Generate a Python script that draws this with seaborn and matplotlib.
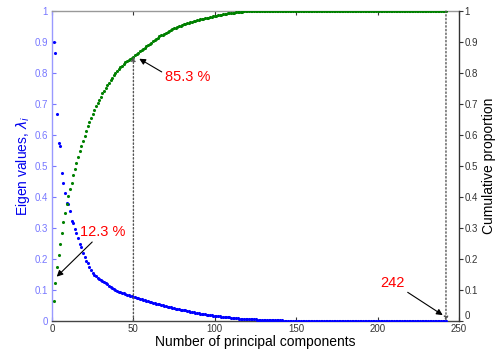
import matplotlib
matplotlib.use("Agg")
import matplotlib.pyplot as plt
import seaborn as sns
import numpy as np
import pandas as pd

# ---- data ----
eigen_values = [
    0.899, 0.864, 0.669, 0.575, 0.565, 0.478, 0.446, 0.414, 0.382, 0.377,
    0.354, 0.322, 0.317, 0.296, 0.283, 0.268, 0.250, 0.238, 0.218, 0.205,
    0.195, 0.186, 0.175, 0.165, 0.155, 0.148, 0.144, 0.140, 0.136, 0.132,
    0.128, 0.125, 0.122, 0.118, 0.114, 0.110, 0.106, 0.103, 0.100, 0.097,
    0.095, 0.093, 0.091, 0.089, 0.087, 0.085, 0.083, 0.081, 0.080, 0.078,
    0.076, 0.075, 0.073, 0.071, 0.070, 0.068, 0.067, 0.065, 0.064, 0.062,
    0.061, 0.059, 0.058, 0.056, 0.055, 0.054, 0.052, 0.051, 0.049, 0.048,
    0.046, 0.045, 0.044, 0.043, 0.041, 0.040, 0.039, 0.038, 0.037, 0.036,
    0.035, 0.034, 0.033, 0.032, 0.030, 0.029, 0.028, 0.027, 0.026, 0.025,
    0.024, 0.023, 0.022, 0.021, 0.020, 0.020, 0.019, 0.018, 0.017, 0.017,
    0.016, 0.015, 0.015, 0.014, 0.014, 0.013, 0.013, 0.012, 0.012, 0.011,
    0.010, 0.010, 0.009, 0.009, 0.008, 0.008, 0.008, 0.007, 0.007, 0.006,
    0.006, 0.006, 0.005, 0.005, 0.005, 0.004, 0.004, 0.004, 0.003, 0.003,
    0.003, 0.003, 0.003, 0.002, 0.002, 0.002, 0.002, 0.002, 0.002, 0.002,
    0.002, 0.001, 0.001, 0.001, 0.001, 0.001, 0.001, 0.001, 0.001, 0.001,
    0.001, 0.001, 0.001, 0.001, 0.001, 0.001, 0.001, 0.001, 0.001, 0.001,
    0.001, 0.001, 0.001, 0.001, 0.001, 0.000, 0.000, 0.000, 0.000, 0.000,
    0.000, 0.000, 0.000, 0.000, 0.000, 0.000, 0.000, 0.000, 0.000, 0.000,
    0.000, 0.000, 0.000, 0.000, 0.000, 0.000, 0.000, 0.000, 0.000, 0.000,
    0.000, 0.000, 0.000, 0.000, 0.000, 0.000, 0.000, 0.000, 0.000, 0.000,
    0.000, 0.000, 0.000, 0.000, 0.000, 0.000, 0.000, 0.000, 0.000, 0.000,
    0.000, 0.000, 0.000, 0.000, 0.000, 0.000, 0.000, 0.000, 0.000, 0.000,
    0.000, 0.000, 0.000, 0.000, 0.000, 0.000, 0.000, 0.000, 0.000, 0.000,
    0.000, 0.000, 0.000, 0.000, 0.000, 0.000, 0.000, 0.000, 0.000, 0.000,
    0.000, 0.000,
]

cumulative_proportion = [
    0.065, 0.123, 0.173, 0.212, 0.250, 0.285, 0.320, 0.347, 0.377, 0.403,
    0.425, 0.446, 0.470, 0.489, 0.511, 0.530, 0.547, 0.565, 0.582, 0.597,
    0.614, 0.628, 0.642, 0.656, 0.669, 0.681, 0.692, 0.703, 0.714, 0.724,
    0.734, 0.743, 0.752, 0.761, 0.769, 0.777, 0.785, 0.792, 0.799, 0.806,
    0.812, 0.818, 0.824, 0.829, 0.834, 0.839, 0.843, 0.846, 0.850, 0.853,
    0.857, 0.862, 0.866, 0.870, 0.874, 0.878, 0.882, 0.886, 0.890, 0.894,
    0.898, 0.902, 0.906, 0.910, 0.914, 0.918, 0.921, 0.924, 0.927, 0.930,
    0.933, 0.936, 0.939, 0.941, 0.944, 0.946, 0.949, 0.951, 0.953, 0.955,
    0.957, 0.959, 0.961, 0.962, 0.964, 0.965, 0.967, 0.968, 0.970, 0.971,
    0.973, 0.974, 0.975, 0.977, 0.978, 0.979, 0.980, 0.982, 0.983, 0.984,
    0.985, 0.986, 0.987, 0.988, 0.989, 0.990, 0.991, 0.992, 0.993, 0.994,
    0.995, 0.995, 0.996, 0.997, 0.997, 0.998, 0.998, 0.999, 0.999, 1.000,
    1.000, 1.000, 1.000, 1.000, 1.000, 1.000, 1.000, 1.000, 1.000, 1.000,
    1.000, 1.000, 1.000, 1.000, 1.000, 1.000, 1.000, 1.000, 1.000, 1.000,
    1.000, 1.000, 1.000, 1.000, 1.000, 1.000, 1.000, 1.000, 1.000, 1.000,
    1.000, 1.000, 1.000, 1.000, 1.000, 1.000, 1.000, 1.000, 1.000, 1.000,
    1.000, 1.000, 1.000, 1.000, 1.000, 1.000, 1.000, 1.000, 1.000, 1.000,
    1.000, 1.000, 1.000, 1.000, 1.000, 1.000, 1.000, 1.000, 1.000, 1.000,
    1.000, 1.000, 1.000, 1.000, 1.000, 1.000, 1.000, 1.000, 1.000, 1.000,
    1.000, 1.000, 1.000, 1.000, 1.000, 1.000, 1.000, 1.000, 1.000, 1.000,
    1.000, 1.000, 1.000, 1.000, 1.000, 1.000, 1.000, 1.000, 1.000, 1.000,
    1.000, 1.000, 1.000, 1.000, 1.000, 1.000, 1.000, 1.000, 1.000, 1.000,
    1.000, 1.000, 1.000, 1.000, 1.000, 1.000, 1.000, 1.000, 1.000, 1.000,
    1.000, 1.000, 1.000, 1.000, 1.000, 1.000, 1.000, 1.000, 1.000, 1.000,
    1.000, 1.000,
]

components = list(range(1, len(eigen_values) + 1))
x_ticks = [0, 50, 100, 150, 200, 250]
y_ticks = [0, 0.1, 0.2, 0.3, 0.4, 0.5, 0.6, 0.7, 0.8, 0.9, 1]
y_tick_labels = ["0", "0.1", "0.2", "0.3", "0.4", "0.5", "0.6", "0.7", "0.8", "0.9", "1"]

df = pd.DataFrame({"component": components,
                   "eigen": eigen_values,
                   "cumulative": cumulative_proportion})

sns.set_style("white")
plt.rcParams["font.family"] = ["Liberation Sans", "DejaVu Sans"]

fig = plt.figure(figsize=(4.96, 3.49), dpi=100)
ax = fig.add_axes([52 / 496, 28 / 349, 407 / 496, 310 / 349])
ax2 = ax.twinx()

sns.scatterplot(data=df, x="component", y="eigen", ax=ax, color="#0000ff",
                s=5, linewidth=0, marker="o", legend=False, zorder=3)
sns.scatterplot(data=df, x="component", y="cumulative", ax=ax2, color="#008000",
                s=5, linewidth=0, marker="o", legend=False, zorder=3)

for a in (ax, ax2):
    a.set_xlim(0, 250)
    a.set_ylim(0, 1)

ax.set_xticks(x_ticks)
ax.set_xticklabels([str(t) for t in x_ticks])
ax.set_yticks(y_ticks)
ax.set_yticklabels(y_tick_labels)
ax2.set_yticks(y_ticks)
ax2.set_yticklabels(y_tick_labels)

# spines
ax.spines["left"].set_color("#9999ff")
ax.spines["bottom"].set_color("#444444")
ax.spines["top"].set_color("#999999")
ax.spines["right"].set_visible(False)
ax2.spines["left"].set_visible(False)
ax2.spines["bottom"].set_visible(False)
ax2.spines["top"].set_visible(False)
ax2.spines["right"].set_color("#333333")
for s in ax.spines.values():
    s.set_linewidth(1.0)
ax2.spines["right"].set_linewidth(1.0)

ax.tick_params(axis="x", direction="in", length=3, top=True, bottom=True,
               labelsize=7, colors="#333333", pad=2)
ax.tick_params(axis="y", direction="in", length=3, left=True, right=False,
               labelsize=7, colors="#7777ff", pad=3)
ax2.tick_params(axis="y", direction="out", length=3, right=True,
                labelsize=7, colors="#333333", pad=1)

ax.set_xlabel("Number of principal components", fontsize=10, color="black", labelpad=1)
ax.set_ylabel(r"Eigen values, $\lambda_i$", fontsize=10, color="#0000ee", labelpad=2)
ax2.set_ylabel("Cumulative proportion", fontsize=10, color="black", labelpad=3)

# lift the right-axis "0" a touch so it clears the "250" below it
ax2.get_yticklabels()[0].set_verticalalignment("bottom")

ax2.set_zorder(ax.get_zorder() + 1)
ax2.patch.set_visible(False)

# dotted guide lines
ax2.annotate("", xy=(50, 0.853), xytext=(50, 0),
             arrowprops=dict(arrowstyle="-|>", linestyle=":", color="#555555",
                             lw=1.0, mutation_scale=6, shrinkA=0, shrinkB=0))
ax2.annotate("", xy=(242, 0.0), xytext=(242, 1.0),
             arrowprops=dict(arrowstyle="-|>", linestyle=":", color="#555555",
                             lw=1.0, mutation_scale=6, shrinkA=0, shrinkB=0))

# annotations
ax2.annotate("12.3 %", xy=(2.9, 0.143), xytext=(17, 0.288), fontsize=10.5,
             color="red", va="center", ha="left",
             arrowprops=dict(arrowstyle="-|>", color="black", lw=0.8,
                             mutation_scale=9, shrinkA=0, shrinkB=0,
                             relpos=(0.35, 0.0)))
ax2.annotate("85.3 %", xy=(53.6, 0.846), xytext=(69.4, 0.786), fontsize=10.5,
             color="red", va="center", ha="left",
             arrowprops=dict(arrowstyle="-|>", color="black", lw=0.8,
                             mutation_scale=9, shrinkA=0, shrinkB=0,
                             relpos=(0.0, 0.75)))
ax2.annotate("242", xy=(240, 0.019), xytext=(201.5, 0.122), fontsize=10.5,
             color="red", va="center", ha="left",
             arrowprops=dict(arrowstyle="-|>", color="black", lw=0.8,
                             mutation_scale=9, shrinkA=0, shrinkB=0,
                             relpos=(1.0, 0.0)))

fig.savefig("out.png", dpi=100)
